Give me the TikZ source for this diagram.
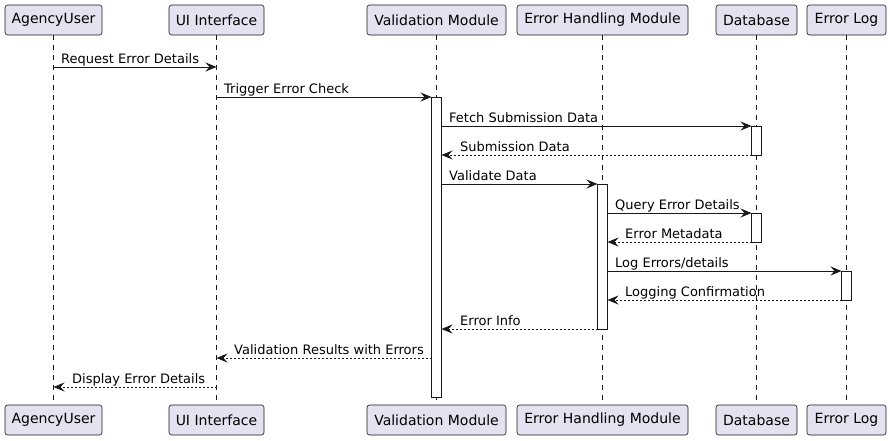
\documentclass[tikz,border=0pt]{standalone}
\usepackage{fontspec}
\setmainfont{DejaVu Sans}
\usetikzlibrary{arrows.meta}
\definecolor{partfill}{HTML}{E2E2F0}
\definecolor{ink}{HTML}{181818}
\begin{document}
\begin{tikzpicture}[x=1pt,y=-1pt,
  part/.style={draw=ink,fill=partfill,rounded corners=2.5pt,minimum height=30pt,inner sep=0pt,font=\fontsize{14}{16}\selectfont,line width=0.6pt},
  life/.style={draw=ink,dash pattern=on 5pt off 5pt,line width=0.6pt},
  actbox/.style={draw=ink,fill=white,line width=0.8pt},
  msg/.style={draw=ink,line width=0.8pt,-{Stealth[length=11pt,width=9pt,inset=4pt]}},
  ret/.style={msg,dash pattern=on 2pt off 2pt},
  lbl/.style={anchor=base west,inner sep=0pt,font=\fontsize{13}{15}\selectfont,text=black}]
\useasboundingbox (0,0) rectangle (890,440);
% participants
\node[part,minimum width=97pt] (au) at (53.5,20) {AgencyUser};
\node[part,minimum width=95pt] (ui) at (216.5,20) {UI Interface};
\node[part,minimum width=139pt] (vm) at (436.5,20) {Validation Module};
\node[part,minimum width=171pt] (eh) at (602.5,20) {Error Handling Module};
\node[part,minimum width=81pt] (db) at (756.5,20) {Database};
\node[part,minimum width=79pt] (el) at (846.5,20) {Error Log};
\node[part,minimum width=97pt] (au2) at (53.5,420) {AgencyUser};
\node[part,minimum width=95pt] (ui2) at (216.5,420) {UI Interface};
\node[part,minimum width=139pt] (vm2) at (436.5,420) {Validation Module};
\node[part,minimum width=171pt] (eh2) at (602.5,420) {Error Handling Module};
\node[part,minimum width=81pt] (db2) at (756.5,420) {Database};
\node[part,minimum width=79pt] (el2) at (846.5,420) {Error Log};
% lifelines
\foreach \a/\b in {au/au2,ui/ui2,vm/vm2,eh/eh2,db/db2,el/el2}
  \draw[life] (\a.south) -- (\b.north);
% activations
\draw[actbox] (431.5,97) rectangle (441.5,397);
\draw[actbox] (751.5,126) rectangle (761.5,155);
\draw[actbox] (597.5,184) rectangle (607.5,329);
\draw[actbox] (751.5,213) rectangle (761.5,242);
\draw[actbox] (841.5,271) rectangle (851.5,300);
% message endpoints
\coordinate (m1a) at (53.5,67);   \coordinate (m1b) at (216.5,67);
\coordinate (m2a) at (216.5,97);  \coordinate (m2b) at (431.5,97);
\coordinate (m3a) at (441.5,126); \coordinate (m3b) at (751.5,126);
\coordinate (m4a) at (751.5,155); \coordinate (m4b) at (441.5,155);
\coordinate (m5a) at (441.5,184); \coordinate (m5b) at (597.5,184);
\coordinate (m6a) at (607.5,213); \coordinate (m6b) at (751.5,213);
\coordinate (m7a) at (751.5,242); \coordinate (m7b) at (607.5,242);
\coordinate (m8a) at (607.5,271); \coordinate (m8b) at (841.5,271);
\coordinate (m9a) at (841.5,300); \coordinate (m9b) at (607.5,300);
\coordinate (m10a) at (597.5,329); \coordinate (m10b) at (441.5,329);
\coordinate (m11a) at (431.5,358); \coordinate (m11b) at (216.5,358);
\coordinate (m12a) at (216.5,387); \coordinate (m12b) at (53.5,387);
% messages
\draw[msg] (m1a) -- (m1b);
\node[lbl] (t1) at (61,63) {Request Error Details};
\draw[msg] (m2a) -- (m2b);
\node[lbl] (t2) at (224,93) {Trigger Error Check};
\draw[msg] (m3a) -- (m3b);
\node[lbl] (t3) at (449,122) {Fetch Submission Data};
\draw[ret] (m4a) -- (m4b);
\node[lbl] (t4) at (460,151) {Submission Data};
\draw[msg] (m5a) -- (m5b);
\node[lbl] (t5) at (449,180) {Validate Data};
\draw[msg] (m6a) -- (m6b);
\node[lbl] (t6) at (615,209) {Query Error Details};
\draw[ret] (m7a) -- (m7b);
\node[lbl] (t7) at (625,238) {Error Metadata};
\draw[msg] (m8a) -- (m8b);
\node[lbl] (t8) at (615,267) {Log Errors/details};
\draw[ret] (m9a) -- (m9b);
\node[lbl] (t9) at (625,296) {Logging Confirmation};
\draw[ret] (m10a) -- (m10b);
\node[lbl] (t10) at (460,325) {Error Info};
\draw[ret] (m11a) -- (m11b);
\node[lbl] (t11) at (234,354) {Validation Results with Errors};
\draw[ret] (m12a) -- (m12b);
\node[lbl] (t12) at (72,383) {Display Error Details};
\end{tikzpicture}
\end{document}
